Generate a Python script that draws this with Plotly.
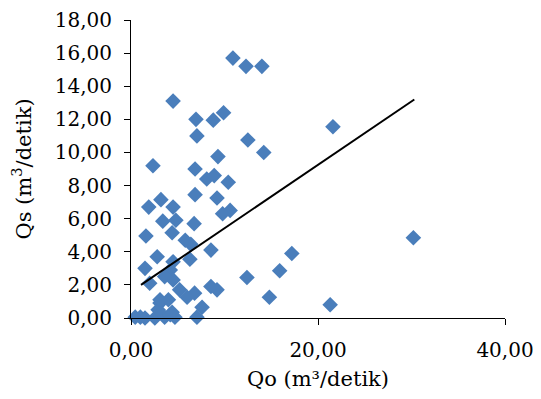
import plotly.graph_objects as go

qo = [10.9, 12.3, 14.0, 4.5, 6.95, 8.8, 9.9, 7.05, 12.5, 14.2,
      2.35, 9.3, 6.85, 8.1, 8.9, 10.4, 6.85, 9.2, 1.9, 3.2,
      4.5, 10.6, 9.8, 21.6, 30.2, 8.55, 17.2, 15.9, 12.4, 8.55,
      9.2, 14.8, 21.3, 7.6, 3.4, 4.8, 6.75, 1.6, 4.4, 5.8,
      6.4, 2.8, 6.3, 1.5, 4.2, 4.5, 2.0, 3.6, 5.2, 6.8,
      6.0, 3.1, 4.0, 7.05, 4.4, 0.45, 1.5, 2.55, 3.6, 4.7,
      2.9, 1.0, 4.2, 4.5, 3.1]
qs = [15.7, 15.2, 15.2, 13.1, 12.0, 11.95, 12.4, 11.0, 10.75, 10.0,
      9.2, 9.75, 9.0, 8.4, 8.6, 8.2, 7.45, 7.25, 6.7, 7.15,
      6.7, 6.5, 6.3, 11.55, 4.85, 4.1, 3.9, 2.85, 2.45, 1.9,
      1.7, 1.25, 0.8, 0.65, 5.85, 5.9, 5.7, 4.95, 5.15, 4.7,
      4.45, 3.7, 3.55, 3.0, 2.9, 2.3, 2.1, 2.5, 1.7, 1.5,
      1.25, 0.9, 1.1, 0.05, 0.35, 0.05, 0.0, 0.0, 0.05, 0.05,
      0.5, 0.05, 0.2, 3.4, 1.1]

trend_x = [1.07, 30.3]
trend_y = [2.0, 13.2]

x_ticks = [0, 20, 40]
y_ticks = [0, 2, 4, 6, 8, 10, 12, 14, 16, 18]
y_labels = ["0,00", "2,00", "4,00", "6,00", "8,00", "10,00",
            "12,00", "14,00", "16,00", "18,00"]
x_labels = ["0,00", "20,00", "40,00"]

fig = go.Figure()
fig.add_trace(go.Scatter(
    x=qo, y=qs, mode="markers",
    marker=dict(symbol="diamond", size=12, color="#4A7EBB",
                line=dict(width=0)),
    cliponaxis=False, showlegend=False))
fig.add_trace(go.Scatter(
    x=trend_x, y=trend_y, mode="lines",
    line=dict(color="black", width=2), showlegend=False))

font = "DejaVu Serif"
fig.update_layout(
    width=533, height=391,
    margin=dict(l=123, r=36, t=12, b=81, autoexpand=False),
    paper_bgcolor="white", plot_bgcolor="white",
    font=dict(family=font, size=20, color="black"),
)
fig.update_xaxes(
    range=[0, 40], tickmode="array", tickvals=x_ticks, ticktext=x_labels,
    showline=True, linecolor="black", linewidth=1, automargin=False,
    ticks="outside", ticklen=6, tickcolor="black", ticklabelstandoff=8,
    showgrid=False, zeroline=False, ticklabeloverflow="allow",
    title=dict(text="Qo (m³/detik)", font=dict(family=font, size=21), standoff=10),
    tickfont=dict(family=font, size=20),
)
fig.update_yaxes(
    range=[0, 18], tickmode="array", tickvals=y_ticks, ticktext=y_labels,
    showline=True, linecolor="black", linewidth=1, automargin=False,
    ticks="outside", ticklen=6, tickcolor="black", ticklabelstandoff=8,
    showgrid=False, zeroline=False, ticklabeloverflow="allow",
    title=dict(text="Qs (m<sup>3</sup>/detik)", font=dict(family=font, size=21), standoff=20),
    tickfont=dict(family=font, size=20),
)
fig.write_html("out.html")
